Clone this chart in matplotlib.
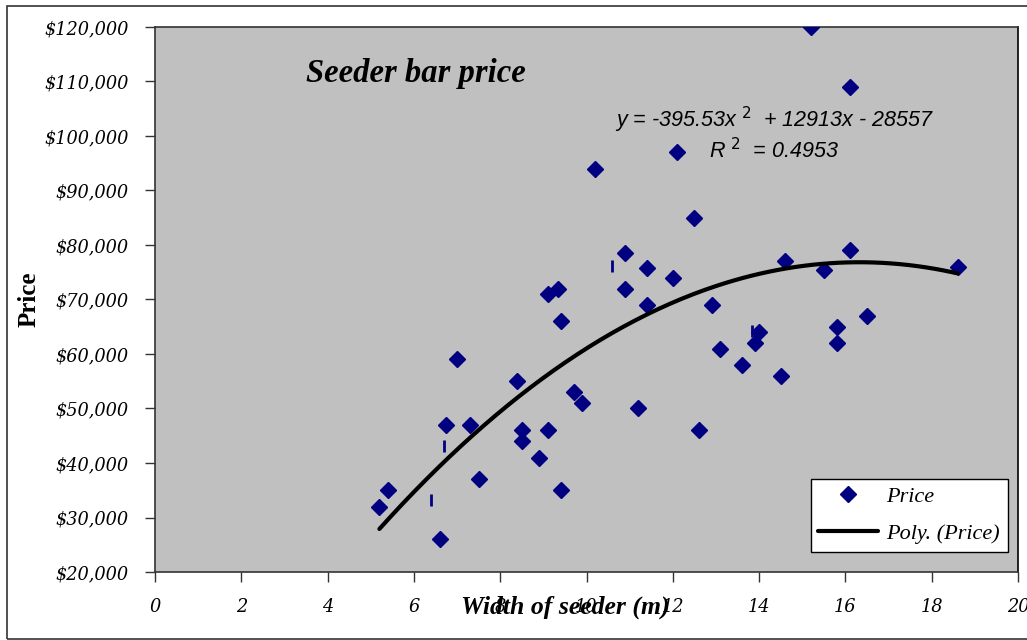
import numpy as np
import matplotlib
matplotlib.use("Agg")
import matplotlib.pyplot as plt
from matplotlib.patches import Rectangle
from matplotlib.ticker import FuncFormatter

# ---- data ----
width_m = [5.2, 5.4, 6.6, 6.75, 7.0, 7.3, 7.5, 8.4, 8.5, 8.5, 8.9, 9.1, 9.1, 9.35,
           9.4, 9.4, 9.7, 9.9, 10.2, 10.9, 10.9, 11.2, 11.4, 11.4, 12.0, 12.1, 12.5,
           12.6, 12.9, 13.1, 13.6, 13.9, 14.0, 14.5, 14.6, 15.2, 15.5, 15.8, 15.8,
           16.1, 16.1, 16.5, 18.6]
price = [32000, 35000, 26000, 47000, 59000, 47000, 37000, 55000, 46000, 44000, 41000,
         71000, 46000, 72000, 66000, 35000, 53000, 51000, 94000, 78500, 72000, 50000,
         75800, 69000, 74000, 97000, 85000, 46000, 69000, 61000, 58000, 62000, 64000,
         56000, 77000, 120000, 75500, 65000, 62000, 109000, 79000, 67000, 76000]
# small stray dash marks visible in the original
stray_x = [6.4, 6.7, 10.6, 13.83]
stray_y = [33200, 43100, 76100, 64300]

poly_coef = [-395.53, 12913, -28557]
r_squared = 0.4953

x_ticks = [0, 2, 4, 6, 8, 10, 12, 14, 16, 18, 20]
y_ticks = [20000, 30000, 40000, 50000, 60000, 70000, 80000, 90000, 100000, 110000, 120000]

# ---- figure ----
fig = plt.figure(figsize=(10.27, 6.40), dpi=100)
fig.patches.append(Rectangle((7/1027, 1.5/640), 1.2, (632.5)/640, transform=fig.transFigure,
                             fill=False, edgecolor='#333333', linewidth=1.2))
ax = fig.add_axes([155/1027, 1-572/640, (1018-155)/1027, (572-27)/640])
ax.set_facecolor('#C0C0C0')

ax.plot(width_m, price, linestyle='none', marker='D', markersize=8.5,
        color='#000080', label='Price', zorder=3)
ax.plot(stray_x, stray_y, linestyle='none', marker='|', markersize=9,
        markeredgewidth=2, color='#000080', zorder=3)

xs = np.linspace(min(width_m), max(width_m), 200)
ys = np.polyval(poly_coef, xs)
ax.plot(xs, ys, color='black', linewidth=3, solid_capstyle='round',
        label='Poly. (Price)', zorder=4)

ax.set_xlim(0, 20)
ax.set_ylim(20000, 120000)
ax.set_xticks(x_ticks)
ax.set_yticks(y_ticks)
ax.yaxis.set_major_formatter(FuncFormatter(lambda v, p: f"${v:,.0f}"))

serif = 'DejaVu Serif'
for lab in ax.get_xticklabels() + ax.get_yticklabels():
    lab.set_family(serif)
    lab.set_style('italic')
    lab.set_fontsize(12.8)
ax.tick_params(axis='both', direction='out', length=7, width=1, colors='#333333',
               labelcolor='black')
ax.tick_params(axis='y', pad=12)
ax.tick_params(axis='x', pad=12)

for s in ax.spines.values():
    s.set_color('#333333')
    s.set_linewidth(1.2)
ax.spines['right'].set_color('black')

tserif = 'Liberation Serif'
ax.set_ylabel('Price', family=tserif, fontweight='bold', fontsize=18)
ax.yaxis.set_label_coords(-0.133, 0.5)
ax.text(9.5, 20000 - 6400, 'Width of seeder (m)', family=tserif,
        fontweight='bold', style='italic', fontsize=18.5, ha='center', va='center')

ax.text(6.05, 111500, 'Seeder bar price', family=tserif, fontweight='bold',
        style='italic', fontsize=23.5, ha='center', va='center')

sans = 'Liberation Sans'
ax.text(14.35, 102900, r'y = -395.53x $^{2}$  + 12913x - 28557',
        family=sans, style='italic', fontsize=15.5, ha='center', va='center')
ax.text(14.35, 97400, r'R $^{2}$  = 0.4953', family=sans, style='italic',
        fontsize=15.5, ha='center', va='center')

leg = ax.legend(loc='lower right', bbox_to_anchor=(0.988, 0.037), borderaxespad=0,
                frameon=True, fancybox=False, edgecolor='black', framealpha=1,
                facecolor='white',
                prop={'family': tserif, 'style': 'italic', 'size': 16},
                handlelength=2.7, handletextpad=0.35, borderpad=0.35, labelspacing=0.75)
leg.get_frame().set_linewidth(1)

fig.savefig('out.png', dpi=100)
